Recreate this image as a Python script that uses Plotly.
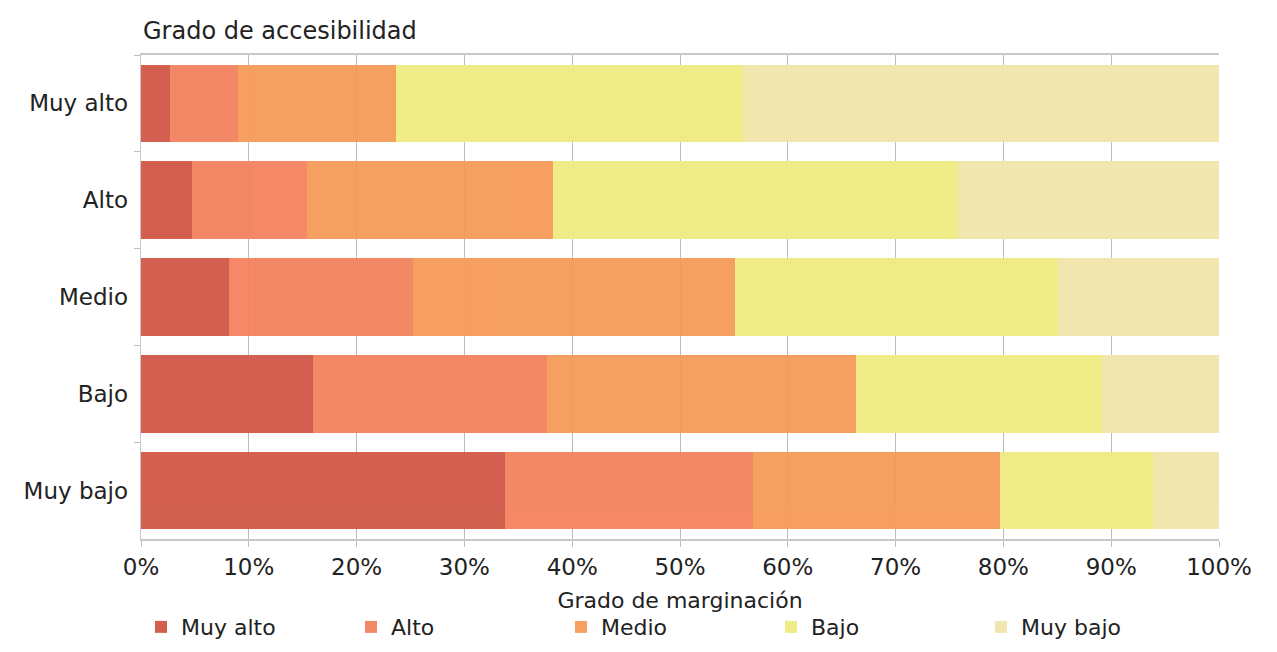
import plotly.graph_objects as go

categories = ["Muy alto", "Alto", "Medio", "Bajo", "Muy bajo"]
series_names = ["Muy alto", "Alto", "Medio", "Bajo", "Muy bajo"]
muy_alto = [2.7, 4.7, 8.2, 16.0, 33.8]
alto = [6.3, 10.7, 17.0, 21.7, 23.0]
medio = [14.7, 22.8, 29.9, 28.6, 22.9]
bajo = [32.1, 37.5, 30.0, 22.8, 14.2]
muy_bajo = [44.2, 24.3, 14.9, 10.9, 6.1]
colors = ["#D05746", "#F3825F", "#F59A58", "#EFEC82", "#F1E6AA"]
tick_vals = [0, 10, 20, 30, 40, 50, 60, 70, 80, 90, 100]
tick_text = [f"{v}%" for v in tick_vals]

FONT = "DejaVu Sans"

fig = go.Figure()
for name, vals, col in zip(series_names, [muy_alto, alto, medio, bajo, muy_bajo], colors):
    fig.add_trace(go.Bar(
        y=categories, x=vals, name=name, orientation="h",
        marker=dict(color=col, line=dict(width=0)), opacity=0.95,
    ))

fig.update_layout(
    barmode="stack",
    bargap=0.2,
    width=1277, height=652,
    paper_bgcolor="white", plot_bgcolor="white",
    margin=dict(l=133, r=66, t=47, b=119),
    font=dict(family=FONT, size=22, color="#222222"),
    legend=dict(orientation="h", x=0.0, xanchor="left", y=-0.182, yanchor="middle",
                font=dict(size=22), itemwidth=30, entrywidthmode="pixels", entrywidth=165,
                traceorder="normal", tracegroupgap=0),
    annotations=[dict(text="Grado de accesibilidad", xref="paper", yref="paper",
                      x=0, y=1.0, xanchor="left", yanchor="bottom", yshift=8,
                      showarrow=False, font=dict(size=24, color="#222222"))],
)
fig.update_xaxes(
    range=[0, 100], tickvals=tick_vals, ticktext=tick_text,
    showgrid=True, gridcolor="#BDBDBD", gridwidth=1,
    showline=True, linecolor="#C8C8C8", linewidth=2, mirror=True,
    ticks="outside", ticklen=6, tickcolor="#BDBDBD", tickfont=dict(size=23),
    title=dict(text="Grado de marginación", font=dict(size=22), standoff=14),
    zeroline=False,
)
fig.update_yaxes(
    categoryorder="array", categoryarray=categories, autorange="reversed",
    showline=True, linecolor="#C8C8C8", linewidth=1, tickfont=dict(size=23),
    ticks="outside", ticklen=6, tickcolor="#BDBDBD", tickson="boundaries",
    ticksuffix=" ",
)

fig.write_html("out.html")
